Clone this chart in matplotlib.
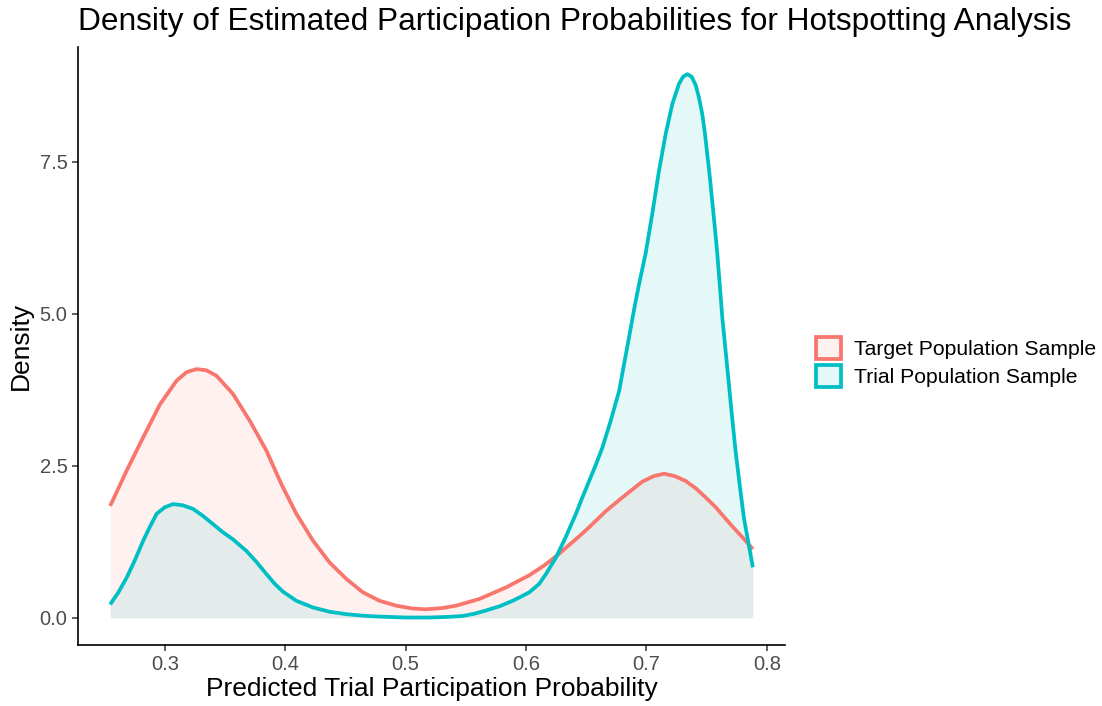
import matplotlib
matplotlib.use("Agg")
import matplotlib.pyplot as plt
from matplotlib.patches import Patch
from matplotlib.colors import to_rgba

plt.rcParams['font.family'] = ['Liberation Sans', 'DejaVu Sans']

# ---- data ----
target_x = [0.2545, 0.2682, 0.282, 0.2959, 0.3097, 0.318, 0.3263, 0.3345, 0.3429, 0.3566,
            0.3705, 0.3843, 0.3967, 0.4092, 0.423, 0.4368, 0.4507, 0.4644, 0.4783, 0.4921,
            0.505, 0.517, 0.530, 0.5419, 0.5612, 0.5833, 0.6027, 0.615, 0.626, 0.6441,
            0.6524, 0.666, 0.680, 0.6966, 0.706, 0.7146, 0.7236, 0.7326, 0.741, 0.7492,
            0.7575, 0.7658, 0.772, 0.7795, 0.7884]
target_y = [1.84, 2.42, 2.97, 3.51, 3.90, 4.04, 4.09, 4.07, 3.98, 3.68,
            3.24, 2.75, 2.20, 1.71, 1.27, 0.91, 0.64, 0.42, 0.28, 0.20,
            0.155, 0.14, 0.16, 0.20, 0.31, 0.50, 0.70, 0.86, 1.03, 1.34,
            1.49, 1.75, 1.98, 2.24, 2.33, 2.37, 2.33, 2.25, 2.13, 1.98,
            1.82, 1.63, 1.49, 1.33, 1.13]

trial_x = [0.2545, 0.2614, 0.2682, 0.2751, 0.282, 0.2876, 0.2931, 0.300, 0.3069, 0.315,
           0.3235, 0.332, 0.340, 0.348, 0.3566, 0.3677, 0.376, 0.3843, 0.3912, 0.3981,
           0.4092, 0.423, 0.4368, 0.4507, 0.4644, 0.4783, 0.500, 0.520, 0.535, 0.5473,
           0.5566, 0.5666, 0.578, 0.5888, 0.596, 0.6027, 0.611, 0.6165, 0.6248, 0.633,
           0.6414, 0.6468, 0.6524, 0.658, 0.6634, 0.670, 0.6773, 0.6815, 0.6856, 0.690,
           0.6939, 0.6994, 0.7049, 0.7104, 0.716, 0.7215, 0.727, 0.7305, 0.7339, 0.7375,
           0.7409, 0.7437, 0.7464, 0.7485, 0.7505, 0.7526, 0.7546, 0.7567, 0.7588, 0.7609,
           0.763, 0.7658, 0.7685, 0.7712, 0.774, 0.7775, 0.7809, 0.7848, 0.7884]
trial_y = [0.22, 0.42, 0.66, 0.95, 1.27, 1.50, 1.71, 1.82, 1.87, 1.85,
           1.79, 1.67, 1.54, 1.41, 1.29, 1.10, 0.92, 0.72, 0.56, 0.43,
           0.28, 0.17, 0.10, 0.06, 0.035, 0.02, 0.005, 0.005, 0.015, 0.03,
           0.065, 0.12, 0.19, 0.28, 0.35, 0.42, 0.56, 0.72, 0.99, 1.33,
           1.71, 1.98, 2.25, 2.52, 2.80, 3.22, 3.73, 4.18, 4.62, 5.10,
           5.49, 6.00, 6.65, 7.35, 7.96, 8.45, 8.78, 8.90, 8.94, 8.90,
           8.76, 8.55, 8.28, 7.98, 7.63, 7.26, 6.86, 6.44, 6.00, 5.48,
           4.94, 4.38, 3.84, 3.29, 2.75, 2.18, 1.65, 1.22, 0.83]

series_names = ["Target Population Sample", "Trial Population Sample"]
x_ticks = [0.3, 0.4, 0.5, 0.6, 0.7, 0.8]
y_ticks = [0.0, 2.5, 5.0, 7.5]

colors = ["#F8766D", "#00BFC4"]
fill_alpha = 0.1

fig = plt.figure(figsize=(11.02, 7.06), dpi=100)
ax = fig.add_axes([78/1102, 61/706, (785-78)/1102, (645-47)/706])

for xs, ys, c in [(target_x, target_y, colors[0]), (trial_x, trial_y, colors[1])]:
    ax.fill_between(xs, 0, ys, color=c, alpha=fill_alpha, linewidth=0)
    ax.plot(xs, ys, color=c, linewidth=2.7, solid_capstyle='butt', solid_joinstyle='round')

xmin, xmax = min(target_x), max(target_x)
xr = xmax - xmin
ax.set_xlim(xmin - 0.05*xr, xmax + 0.05*xr)
ymax = max(max(target_y), max(trial_y))
ax.set_ylim(-0.05*ymax, ymax*1.05)

ax.set_xticks(x_ticks)
ax.set_xticklabels([f"{v:.1f}" for v in x_ticks])
ax.set_yticks(y_ticks)
ax.set_yticklabels([f"{v:.1f}" for v in y_ticks])
ax.tick_params(axis='both', labelsize=14.5, labelcolor='#4D4D4D', color='#333333',
               length=4.5, width=1.1, direction='out')
ax.tick_params(axis='x', pad=3)
ax.tick_params(axis='y', pad=3)
for s in ['top', 'right']:
    ax.spines[s].set_visible(False)
for s in ['left', 'bottom']:
    ax.spines[s].set_linewidth(1.2)
    ax.spines[s].set_color('black')

ax.set_xlabel("Predicted Trial Participation Probability", fontsize=19, labelpad=2)
ax.set_ylabel("Density", fontsize=19, labelpad=5)

fig.text(78/1102, 1 - 22/706, "Density of Estimated Participation Probabilities for Hotspotting Analysis",
         fontsize=22.8, ha='left', va='center')

handles = [Patch(facecolor=to_rgba(c, fill_alpha), edgecolor=c, linewidth=2.7) for c in colors]
leg = fig.legend(handles, series_names, loc='center left', bbox_to_anchor=(816/1102, 1 - 362/706),
                 frameon=False, fontsize=15.2, handlelength=1.2, handleheight=1.2,
                 handletextpad=0.62, labelspacing=0.3, borderaxespad=0, borderpad=0)

fig.savefig("out.png", dpi=100)
